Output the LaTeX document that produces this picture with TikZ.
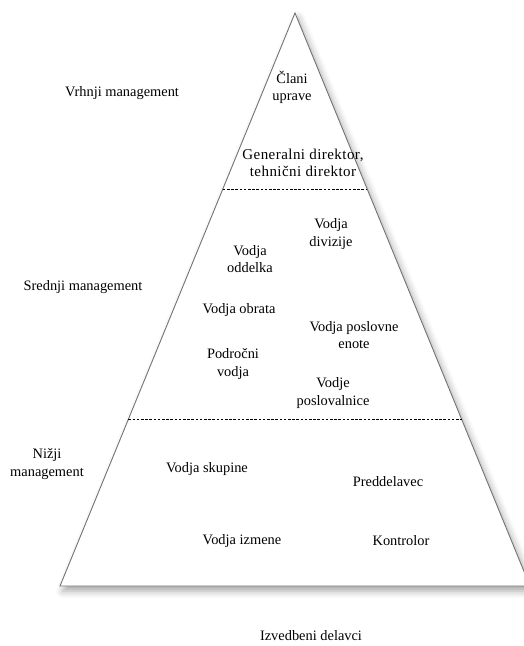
\documentclass[tikz,border=0pt]{standalone}
\usepackage{fontspec}
\setmainfont{Liberation Serif}
\usetikzlibrary{calc,shadows.blur}
\begin{document}
\begin{tikzpicture}[x=1pt,y=-1pt,
  lbl/.style={align=center, inner sep=0pt, font=\fontsize{14.4}{17.2}\selectfont},
  widelbl/.style={lbl, font=\fontsize{15}{17.2}\selectfont\addfontfeature{LetterSpace=3}},
  edgeline/.style={draw=black!55, line width=0.9pt, line join=miter},
  divider/.style={black, line width=0.7pt, dash pattern=on 2.6pt off 1.6pt}]
\useasboundingbox (0,0) rectangle (523,646);

% pyramid outline with a soft drop shadow
\coordinate (apex) at (295,13);
\coordinate (bl) at (60,586);
\coordinate (br) at (530,586);
\fill[white, blur shadow={shadow xshift=3pt, shadow yshift=-5pt,
      shadow blur radius=7pt, shadow opacity=35}]
  (apex) -- (bl) -- (br) -- cycle;
\draw[edgeline] (apex) -- (bl) -- (br) -- cycle;

% level dividers
\coordinate (d1l) at ($(apex)!0.3072!(bl)$);
\coordinate (d1r) at ($(apex)!0.3072!(br)$);
\coordinate (d2l) at ($(apex)!0.7086!(bl)$);
\coordinate (d2r) at ($(apex)!0.7086!(br)$);
\draw[divider] (d1l) -- (d1r);
\draw[divider] (d2l) -- (d2r);

% positions inside the pyramid
\node[lbl] (clani) at (292,87) {Člani\\uprave};
\node[widelbl] (gen) at (303,163) {Generalni direktor,\\tehnični direktor};
\node[lbl] (divizija) at (331,234) {Vodja\\divizije};
\node[lbl] (oddelek) at (250,259) {Vodja\\oddelka};
\node[lbl] (obrat) at (239,310) {Vodja obrata};
\node[lbl] (enota) at (354,335) {Vodja poslovne\\enote};
\node[lbl] (podrocni) at (233,364) {Področni\\vodja};
\node[lbl] (poslovalnica) at (333,393) {Vodje\\poslovalnice};
\node[lbl] (skupina) at (207,469) {Vodja skupine};
\node[lbl] (preddelavec) at (388,482) {Preddelavec};
\node[lbl] (izmena) at (242,541) {Vodja izmene};
\node[lbl] (kontrolor) at (401,541) {Kontrolor};

% management levels
\node[lbl] (vrhnji) at (122,93) {Vrhnji management};
\node[lbl] (srednji) at (83,287) {Srednji management};
\node[lbl] (nizji) at (47,464) {Nižji\\management};
\node[lbl] (izvedbeni) at (311,636) {Izvedbeni delavci};
\end{tikzpicture}
\end{document}
